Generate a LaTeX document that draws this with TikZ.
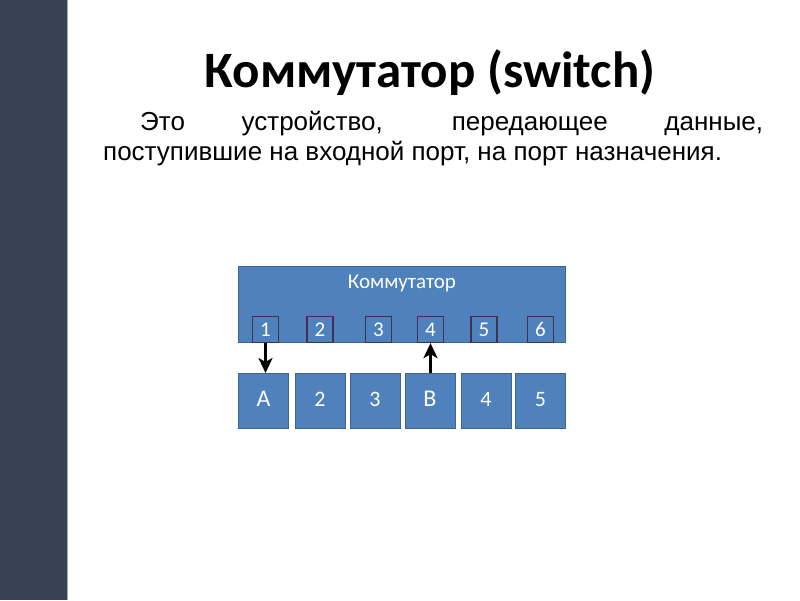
\documentclass[tikz,border=0pt]{standalone}
\usepackage{fontspec}
\setmainfont{Liberation Sans}
\newfontfamily\calibri[Numbers=Lining]{Carlito}
\usetikzlibrary{arrows.meta}

\definecolor{sidebar}{HTML}{374254}
\definecolor{boxblue}{HTML}{4F81BD}
\definecolor{boxedge}{HTML}{3C6596}
\definecolor{portedge}{HTML}{403152}

\tikzset{
    unit/.style={fill=boxblue, draw=boxedge, line width=0.8pt, text=white, inner sep=0pt},
    port/.style={unit, draw=portedge, line width=1.5pt, minimum width=26pt, minimum height=26pt,
                 text height=14pt, text depth=0pt, font=\calibri\fontsize{21}{21}\selectfont},
    host/.style={unit, minimum width=50pt, minimum height=55pt,
                 text height=12pt, text depth=0pt, font=\calibri\fontsize{22}{22}\selectfont},
    link/.style={black, line width=2.8pt, -{Stealth[length=15pt,width=14pt,inset=4pt]}}
}

\begin{document}
\begin{tikzpicture}[x=1pt, y=-1pt]
    % Page and side bar
    \fill[white] (0,0) rectangle (800,600);
    \fill[sidebar] (0,0) rectangle (67,600);
    \draw[gray!70, line width=0.8pt] (67,0) -- (67,600);

    % Title and definition
    \node (title) at (430,72) {\calibri\bfseries\fontsize{51}{51}\selectfont Коммутатор (switch)};
    \node[anchor=north west, inner sep=0pt, text width=660pt, align=justify,
          font=\fontsize{26}{30}\selectfont] (text) at (103,111)
        {\hbadness=10000\parindent=37pt\indent Это устройство, передающее данные,\linebreak поступившие на входной порт, на порт назначения.};

    % The switch
    \node[unit, minimum width=327pt, minimum height=76pt] (sw) at (402,304) {};
    \node[text=white, font=\calibri\fontsize{21}{21}\selectfont] (swlabel) at (402,283) {Коммутатор};

    % Ports
    \node[port] (p1) at (265.5,329) {1};
    \node[port] (p2) at (320,329) {2};
    \node[port] (p3) at (378.5,329) {3};
    \node[port] (p4) at (430.5,329) {4};
    \node[port] (p5) at (484,329) {5};
    \node[port] (p6) at (540.5,329) {6};

    % Hosts
    \node[host, font=\calibri\fontsize{24}{24}\selectfont] (hA) at (263.5,400.5) {A};
    \node[host] (h2) at (320,400.5) {2};
    \node[host] (h3) at (375,400.5) {3};
    \node[host, font=\calibri\fontsize{24}{24}\selectfont] (hB) at (430,400.5) {B};
    \node[host] (h4) at (486,400.5) {4};
    \node[host] (h5) at (540.5,400.5) {5};

    % Frame goes from port 1 to A and from B to port 4
    \draw[link] (p1.south) -- (p1.south |- hA.north);
    \draw[link] (hB.north -| p4.south) -- (p4.south);
\end{tikzpicture}
\end{document}
